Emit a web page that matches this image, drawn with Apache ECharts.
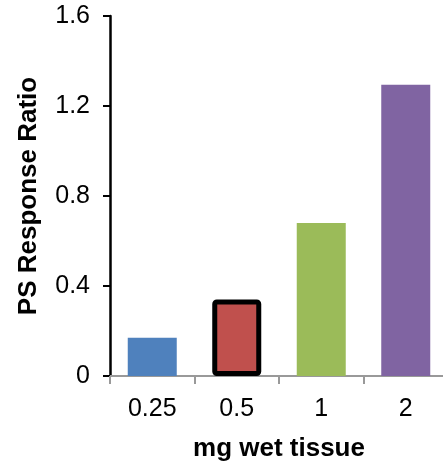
<!DOCTYPE html>
<html><head><meta charset="utf-8">
<script src="https://cdn.jsdelivr.net/npm/echarts@6/dist/echarts.min.js"></script>
<style>html,body{margin:0;padding:0;background:#fff}#c{width:443px;height:461px}</style>
</head><body><div id="c"></div>
<script>
var categories = ['0.25', '0.5', '1', '2'];
var values = [0.17, 0.34, 0.68, 1.295];
var colors = ['#4F81BD', '#C0504D', '#9BBB59', '#8064A2'];
var yTicks = [0, 0.4, 0.8, 1.2, 1.6];
var xTitle = 'mg wet tissue';
var yTitle = 'PS Response Ratio';

var font = '"Liberation Sans", Arial, sans-serif';
var data = values.map(function (v, i) {
  var item = { value: v, itemStyle: { color: colors[i] } };
  if (i === 1) { item.itemStyle.borderColor = '#000'; item.itemStyle.borderWidth = 5; item.itemStyle.borderRadius = 2; }
  return item;
});
var chart = echarts.init(document.getElementById('c'), null, { renderer: 'canvas' });
chart.setOption({
  animation: false,
  grid: { left: 110, right: -5, top: 16, bottom: 85, containLabel: false, outerBoundsMode: 'none' },
  xAxis: {
    type: 'category', data: categories,
    name: xTitle, nameLocation: 'middle', nameGap: 60, nameMoveOverlap: false,
    nameTextStyle: { fontFamily: font, fontSize: 26, fontWeight: 'bold', color: '#000' },
    axisLine: { lineStyle: { color: '#999', width: 2 } },
    axisTick: { show: true, length: 8, lineStyle: { color: '#999', width: 2 } },
    axisLabel: { fontFamily: font, fontSize: 25, color: '#000', margin: 21 }
  },
  yAxis: {
    type: 'value', min: yTicks[0], max: yTicks[yTicks.length - 1], interval: 0.4,
    name: yTitle, nameLocation: 'middle', nameGap: 68, nameMoveOverlap: false,
    nameTextStyle: { fontFamily: font, fontSize: 26, fontWeight: 'bold', color: '#000' },
    axisLine: { show: true, lineStyle: { color: '#000', width: 2.5 } },
    axisTick: { show: true, length: 7, lineStyle: { color: '#000', width: 2 } },
    splitLine: { show: false },
    axisLabel: { fontFamily: font, fontSize: 25, color: '#000', margin: 20,
      formatter: function (v) { return String(Math.round(v * 10) / 10); } }
  },
  series: [{ type: 'bar', data: data, barWidth: 49 }]
});
</script></body></html>
